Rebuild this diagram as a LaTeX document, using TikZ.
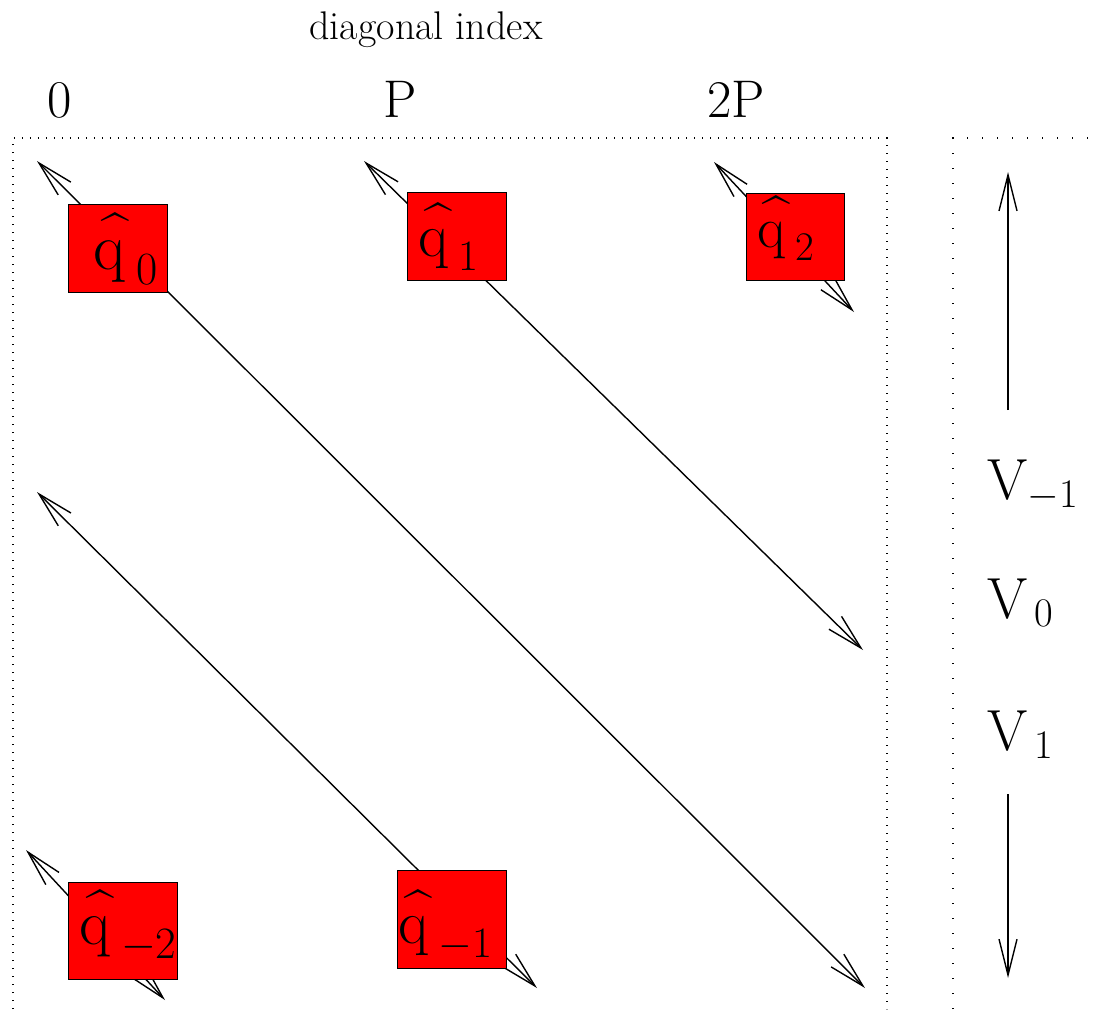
\RequirePackage{fix-cm}
\documentclass[tikz,border=0pt]{standalone}
\usepackage{amsmath}
\usepackage{tikz}
\usetikzlibrary{arrows.meta}
\newcommand{\qhat}[1]{$\widehat{\text{q}\vphantom{\text{t}}\,}_{#1}$}

\begin{document}
\begin{tikzpicture}[x=0.5pt, y=-0.5pt, >={Straight Barb[length=18pt,width=9pt]},
    diag/.style={<->, line width=0.7pt},
    qbox/.style={draw, fill=red, line width=0.4pt},
    qlab/.style={anchor=base west, inner sep=0pt},
    vlab/.style={anchor=base west, inner sep=0pt, font=\fontsize{29}{32}\selectfont},
    toplab/.style={anchor=base, inner sep=0pt, font=\fontsize{26.5}{30}\selectfont},
    frame/.style={line width=0.6pt, dash pattern=on 0.6pt off 3.4pt}]
    \useasboundingbox (0,0) rectangle (1097,1009);
    % frames
    \draw[frame] (13,1009) -- (13,138) -- (887,138) -- (887,1009);
    \draw[frame, dash pattern=on 0.6pt off 6.9pt] (953,1009) -- (953,138) -- (1097,138);
    % headings
    \node[toplab, font=\fontsize{20}{24}\selectfont] (head) at (426,39) {diagonal index};
    \node[toplab] (d0) at (60,117) {0};
    \node[toplab] (d1) at (400,117) {P};
    \node[toplab] (d2) at (736,117) {2P};
    % diagonal arrows
    \coordinate (a0s) at (37,161);  \coordinate (a0e) at (865,988);
    \coordinate (a1s) at (364,161); \coordinate (a1e) at (863,650);
    \coordinate (a2s) at (714,162); \coordinate (a2e) at (854,312);
    \coordinate (am1s) at (37,492); \coordinate (am1e) at (537,988);
    \coordinate (am2s) at (26,850); \coordinate (am2e) at (165,1000);
    \draw[diag] (a0s) -- (a0e);
    \draw[diag] (a1s) -- (a1e);
    \draw[diag] (a2s) -- (a2e);
    \draw[diag] (am1s) -- (am1e);
    \draw[diag] (am2s) -- (am2e);
    % red boxes
    \filldraw[qbox] (68,204) rectangle (167,292);
    \filldraw[qbox] (407,192) rectangle (506,280);
    \filldraw[qbox] (746,193) rectangle (844,280);
    \filldraw[qbox] (68,882) rectangle (177,979);
    \filldraw[qbox] (397,870) rectangle (506,968);
    \node[qlab, font=\fontsize{33}{38}\selectfont] (q0) at (93,269) {\qhat{\text{0}}};
    \node[qlab, font=\fontsize{31}{36}\selectfont] (q1) at (418,256) {\qhat{\text{1}}};
    \node[qlab, font=\fontsize{29}{34}\selectfont] (q2) at (757,247) {\qhat{\text{2}}};
    \node[qlab, font=\fontsize{32}{38}\selectfont] (qm2) at (79,944) {\qhat{-\text{2}}};
    \node[qlab, font=\fontsize{31}{36}\selectfont] (qm1) at (398,943) {\qhat{-\text{1}}};
    % vertical direction
    \coordinate (up0) at (1008,410); \coordinate (up1) at (1008,172);
    \coordinate (dn0) at (1008,794); \coordinate (dn1) at (1008,978);
    \draw[->, line width=0.7pt] (up0) -- (up1);
    \draw[->, line width=0.7pt] (dn0) -- (dn1);
    \node[vlab] (vm1) at (987,499) {$\text{V}_{-\text{1}}$};
    \node[vlab] (v0) at (987,618) {$\text{V}_{\,\text{0}}$};
    \node[vlab] (v1) at (987,750) {$\text{V}_{\,\text{1}}$};
  \end{tikzpicture}
\end{document}
